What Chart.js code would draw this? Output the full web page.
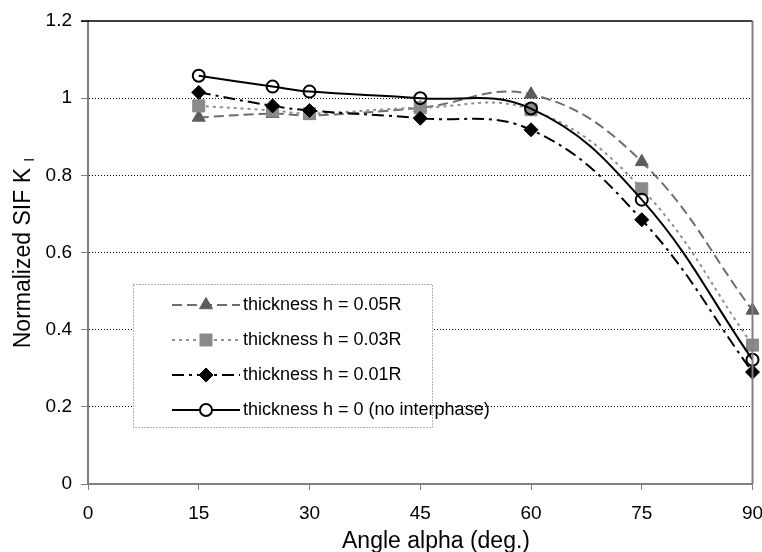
<!DOCTYPE html>
<html>
<head>
<meta charset="utf-8">
<script src="https://cdn.jsdelivr.net/npm/chart.js@4/dist/chart.umd.min.js"></script>
<style>
  body { margin: 0; background: #fff; }
  #wrap { width: 762px; height: 552px; }
</style>
</head>
<body>
<div id="wrap"><canvas id="sifChart" width="762" height="552"></canvas></div>
<script>
// chart data
var angles = [15, 25, 30, 45, 60, 75, 90];
var sifH005 = [0.95, 0.96, 0.955, 0.975, 1.01, 0.835, 0.45];
var sifH003 = [0.98, 0.968, 0.96, 0.975, 0.97, 0.765, 0.36];
var sifH001 = [1.015, 0.98, 0.968, 0.948, 0.918, 0.685, 0.29];
var sifH0 = [1.058, 1.03, 1.017, 1.0, 0.973, 0.737, 0.322];
var seriesLabels = [
  'thickness h = 0.05R',
  'thickness h = 0.03R',
  'thickness h = 0.01R',
  'thickness h = 0 (no interphase)'
];
var xTickLabels = ['0', '15', '30', '45', '60', '75', '90'];
var yTickLabels = ['0', '0.2', '0.4', '0.6', '0.8', '1', '1.2'];
var xTitle = 'Angle alpha (deg.)';
var yTitle = 'Normalized SIF K';
var yTitleSub = 'I';

var FONT = '"Liberation Sans", Arial, sans-serif';

function toPoints(values) {
  return values.map(function (v, i) {
    return { x: angles[i], y: v };
  });
}

// draws the axis titles, frame and the boxed legend
var extrasPlugin = {
  id: 'extras',
  afterDraw: function (chart) {
    var ctx = chart.ctx;
    var area = chart.chartArea;
    ctx.save();

    // top and right frame
    ctx.strokeStyle = '#000';
    ctx.lineWidth = 1.5;
    ctx.beginPath();
    ctx.moveTo(area.left - 7, area.top);
    ctx.lineTo(area.right, area.top);
    ctx.stroke();
    ctx.strokeStyle = '#808080';
    ctx.lineWidth = 2;
    ctx.beginPath();
    ctx.moveTo(area.right, area.top);
    ctx.lineTo(area.right, area.bottom);
    ctx.stroke();

    // x title
    ctx.fillStyle = '#000';
    ctx.font = '23px ' + FONT;
    ctx.textAlign = 'center';
    ctx.textBaseline = 'alphabetic';
    ctx.fillText(xTitle, 436, 548);

    // y title with subscript
    ctx.save();
    ctx.translate(30, 253);
    ctx.rotate(-Math.PI / 2);
    ctx.font = '23px ' + FONT;
    var w1 = ctx.measureText(yTitle + ' ').width;
    ctx.font = '14px ' + FONT;
    var w2 = ctx.measureText(yTitleSub).width;
    var start = -(w1 + w2) / 2;
    ctx.textAlign = 'left';
    ctx.font = '23px ' + FONT;
    ctx.fillText(yTitle, start, 0);
    ctx.font = '14px ' + FONT;
    ctx.fillText(yTitleSub, start + w1, 4);
    ctx.restore();

    // legend box
    var box = { x: 133, y: 284, w: 299, h: 143 };
    ctx.fillStyle = '#fff';
    ctx.fillRect(box.x, box.y, box.w, box.h);
    ctx.strokeStyle = '#666';
    ctx.lineWidth = 1;
    ctx.setLineDash([1, 2]);
    ctx.strokeRect(box.x + 0.5, box.y + 0.5, box.w, box.h);

    var rows = [305, 340, 375, 410];
    chart.data.datasets.forEach(function (ds, i) {
      var y = rows[i];
      ctx.strokeStyle = ds.borderColor;
      ctx.lineWidth = ds.borderWidth;
      ctx.setLineDash(ds.borderDash || []);
      ctx.beginPath();
      ctx.moveTo(172, y);
      ctx.lineTo(240, y);
      ctx.stroke();
      ctx.setLineDash([]);
      ctx.fillStyle = ds.legendFill;
      ctx.strokeStyle = ds.pointBorderColor;
      ctx.lineWidth = ds.pointBorderWidth;
      Chart.helpers.drawPoint(ctx, {
        pointStyle: ds.pointStyle,
        radius: ds.pointRadius,
        rotation: 0,
        borderWidth: ds.pointBorderWidth
      }, 206, y);
      ctx.fillStyle = '#000';
      ctx.font = '18px ' + FONT;
      ctx.textAlign = 'left';
      ctx.textBaseline = 'middle';
      ctx.fillText(seriesLabels[i], 243, y);
    });
    ctx.restore();
  }
};

function createSifChart() {
  var ctx = document.getElementById('sifChart').getContext('2d');

  var chart = new Chart(ctx, {
    type: 'line',
    data: {
      datasets: [
        {
          label: seriesLabels[0],
          data: toPoints(sifH005),
          order: 4,
          borderColor: '#6e6e6e',
          borderWidth: 2,
          borderDash: [10, 5],
          pointStyle: 'triangle',
          pointRadius: 7.5,
          pointBackgroundColor: '#5c5c5c',
          pointBorderColor: '#5c5c5c',
          pointBorderWidth: 1,
          legendFill: '#5c5c5c'
        },
        {
          label: seriesLabels[1],
          data: toPoints(sifH003),
          order: 3,
          borderColor: '#8e8e8e',
          borderWidth: 2,
          borderDash: [3, 4],
          pointStyle: 'rect',
          pointRadius: 8.5,
          pointBackgroundColor: '#8a8a8a',
          pointBorderColor: '#8a8a8a',
          pointBorderWidth: 1,
          legendFill: '#8a8a8a'
        },
        {
          label: seriesLabels[2],
          data: toPoints(sifH001),
          order: 2,
          borderColor: '#000',
          borderWidth: 2,
          borderDash: [12, 5, 3, 5],
          pointStyle: 'rectRot',
          pointRadius: 7,
          pointBackgroundColor: '#000',
          pointBorderColor: '#000',
          pointBorderWidth: 1,
          legendFill: '#000'
        },
        {
          label: seriesLabels[3],
          data: toPoints(sifH0),
          order: 1,
          borderColor: '#000',
          borderWidth: 2,
          pointStyle: 'circle',
          pointRadius: 6,
          pointBackgroundColor: 'rgba(0,0,0,0)',
          pointBorderColor: '#000',
          pointBorderWidth: 2,
          legendFill: '#fff'
        }
      ]
    },
    options: {
      responsive: false,
      animation: false,
      devicePixelRatio: 1,
      clip: 12,
      tension: 0.4,
      layout: { padding: { top: 21, right: 9, left: 0, bottom: 0 } },
      plugins: {
        legend: { display: false },
        tooltip: { enabled: false }
      },
      scales: {
        x: {
          type: 'linear',
          min: 0,
          max: 90,
          afterFit: function (s) {
            s.height = 68;
            s.paddingLeft = 0;
            s.paddingRight = 0;
          },
          border: { color: '#808080', width: 2 },
          grid: {
            drawOnChartArea: false,
            tickLength: 6,
            tickColor: '#808080',
            tickWidth: 1
          },
          ticks: {
            stepSize: 15,
            padding: 12,
            maxRotation: 0,
            color: '#000',
            font: { family: FONT, size: 19 },
            callback: function (v) {
              return xTickLabels[Math.round(v / 15)];
            }
          }
        },
        y: {
          type: 'linear',
          min: 0,
          max: 1.2,
          afterFit: function (s) {
            s.width = 88;
            s.paddingTop = 0;
            s.paddingBottom = 0;
          },
          border: { color: '#808080', width: 2, dash: [1, 2] },
          grid: {
            color: function (c) {
              if (!c.tick) return '#000';
              var v = c.tick.value;
              return v < 0.01 || v > 1.19 ? 'rgba(0,0,0,0)' : '#000';
            },
            lineWidth: 1,
            tickLength: 7,
            tickColor: '#808080',
            tickWidth: 1,
            tickBorderDash: []
          },
          ticks: {
            stepSize: 0.2,
            padding: 9,
            color: '#000',
            font: { family: FONT, size: 19 },
            callback: function (v) {
              return yTickLabels[Math.round(v / 0.2)];
            }
          }
        }
      }
    },
    plugins: [extrasPlugin]
  });

  return chart;
}

var sifChart = createSifChart();
</script>
</body>
</html>
